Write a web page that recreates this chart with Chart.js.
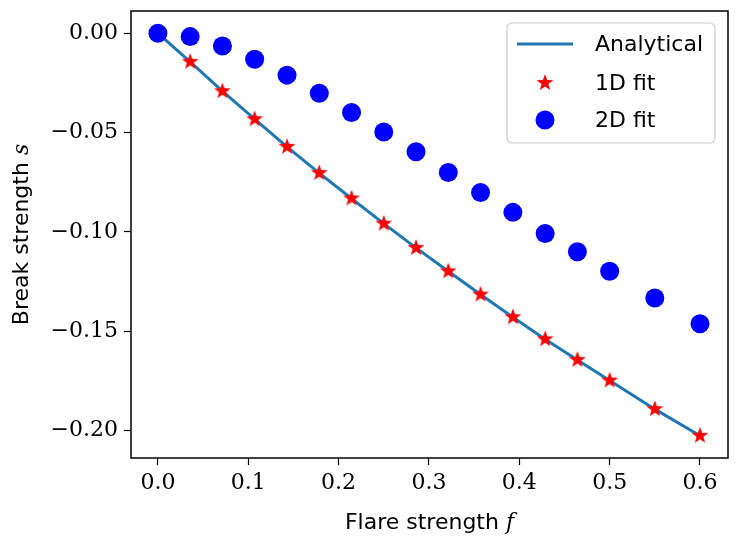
<!DOCTYPE html>
<html>
<head>
<meta charset="utf-8">
<script src="https://cdn.jsdelivr.net/npm/chart.js@4.4.1/dist/chart.umd.min.js"></script>
<style>
  html, body { margin: 0; padding: 0; background: #fff; }
  #wrap { width: 739px; height: 545px; }
</style>
</head>
<body>
<div id="wrap"><canvas id="chart"></canvas></div>
<script>
// Flare strength vs break strength

const flareStrength = [0, 0.0357, 0.0714, 0.1071, 0.1429, 0.1786, 0.2143, 0.25, 0.2857,
    0.3214, 0.3571, 0.3929, 0.4286, 0.4643, 0.5, 0.55, 0.6];
const analytical = [0, -0.0144, -0.0292, -0.0433, -0.0572, -0.0704, -0.0832, -0.0959, -0.1081,
    -0.1199, -0.1316, -0.1430, -0.1541, -0.1645, -0.1749, -0.1893, -0.2027];
const fit1D = [0, -0.0144, -0.0292, -0.0433, -0.0572, -0.0704, -0.0832, -0.0959, -0.1081,
    -0.1199, -0.1316, -0.1430, -0.1541, -0.1645, -0.1749, -0.1893, -0.2027];
const fit2D = [0, -0.0017, -0.0064, -0.0131, -0.0211, -0.0302, -0.0399, -0.0497, -0.0597,
    -0.0701, -0.0802, -0.0902, -0.1008, -0.1100, -0.1199, -0.1333, -0.1463];

const xTicks = [0, 0.1, 0.2, 0.3, 0.4, 0.5, 0.6];
const yTicks = [0, -0.05, -0.10, -0.15, -0.20];

const legendLabels = ['Analytical', '1D fit', '2D fit'];

const toPoints = (ys) => ys.map((y, i) => ({ x: flareStrength[i], y }));
const fmtMinus = (v, d) => (v < 0 ? '\u2212' : '') + Math.abs(v).toFixed(d);

// filled five-point star for the 1D markers
function makeStar(size, outer, inner, color) {
    const c = document.createElement('canvas');
    c.width = size; c.height = size;
    const g = c.getContext('2d');
    const cx = size / 2, cy = size / 2;
    g.beginPath();
    for (let i = 0; i < 10; i++) {
        const r = i % 2 === 0 ? outer : inner;
        const a = -Math.PI / 2 + i * Math.PI / 5;
        const px = cx + r * Math.cos(a), py = cy + r * Math.sin(a);
        if (i === 0) g.moveTo(px, py); else g.lineTo(px, py);
    }
    g.closePath();
    g.fillStyle = color;
    g.fill();
    return c;
}
const starImg = makeStar(20, 8.8, 3.6, '#ff0000');

const serif = '"DejaVu Serif", serif';
const sans = '"DejaVu Sans", sans-serif';

// frame, axis titles with math italics, legend box
const decorations = {
    id: 'decorations',
    afterDraw(chart) {
        const { ctx, chartArea: a } = chart;
        ctx.save();
        ctx.strokeStyle = '#000';
        ctx.lineWidth = 1.5;
        ctx.strokeRect(a.left, a.top, a.right - a.left, a.bottom - a.top);

        // x title
        ctx.fillStyle = '#000';
        ctx.textBaseline = 'alphabetic';
        const xMain = 'Flare strength ';
        ctx.font = '22px ' + sans;
        const w1 = ctx.measureText(xMain).width;
        ctx.font = 'italic 22px ' + serif;
        const w2 = ctx.measureText('f').width;
        let x0 = (a.left + a.right) / 2 - (w1 + w2) / 2;
        ctx.font = '22px ' + sans;
        ctx.fillText(xMain, x0, 529);
        ctx.font = 'italic 22px ' + serif;
        ctx.fillText('f', x0 + w1, 529);

        // y title (rotated)
        const yMain = 'Break strength ';
        ctx.translate(28, (a.top + a.bottom) / 2);
        ctx.rotate(-Math.PI / 2);
        ctx.font = '22px ' + sans;
        const v1 = ctx.measureText(yMain).width;
        ctx.font = 'italic 22px ' + serif;
        const v2 = ctx.measureText('s').width;
        const y0 = -(v1 + v2) / 2;
        ctx.font = '22px ' + sans;
        ctx.fillText(yMain, y0, 0);
        ctx.font = 'italic 22px ' + serif;
        ctx.fillText('s', y0 + v1, 0);
        ctx.restore();

        // legend
        ctx.save();
        const bx = 507, by = 23, bw = 208, bh = 120, r = 5;
        ctx.beginPath();
        ctx.roundRect(bx, by, bw, bh, r);
        ctx.fillStyle = 'rgba(255,255,255,0.8)';
        ctx.fill();
        ctx.strokeStyle = '#cccccc';
        ctx.lineWidth = 1.2;
        ctx.stroke();

        const rows = [44, 83, 120];
        const ds = chart.data.datasets;
        ctx.strokeStyle = ds[0].borderColor;
        ctx.lineWidth = ds[0].borderWidth;
        ctx.beginPath();
        ctx.moveTo(517, rows[0]);
        ctx.lineTo(573, rows[0]);
        ctx.stroke();
        ctx.drawImage(starImg, 545 - starImg.width / 2, rows[1] - starImg.height / 2);
        ctx.beginPath();
        ctx.arc(545, rows[2], ds[2].pointRadius, 0, Math.PI * 2);
        ctx.fillStyle = ds[2].backgroundColor;
        ctx.fill();

        ctx.fillStyle = '#000';
        ctx.font = '22px ' + sans;
        ctx.textBaseline = 'middle';
        legendLabels.forEach((t, i) => ctx.fillText(t, 595, rows[i] + 1));
        ctx.restore();
    }
};

new Chart(document.getElementById('chart'), {
    type: 'scatter',
    data: {
        datasets: [
            {
                label: legendLabels[0],
                data: toPoints(analytical),
                showLine: true,
                borderColor: '#1f77b4',
                borderWidth: 3,
                pointRadius: 0,
                order: 3
            },
            {
                label: legendLabels[1],
                data: toPoints(fit1D),
                pointStyle: starImg,
                pointRadius: 10,
                order: 2
            },
            {
                label: legendLabels[2],
                data: toPoints(fit2D),
                backgroundColor: '#0000ff',
                borderColor: '#0000ff',
                borderWidth: 0,
                pointRadius: 9.5,
                order: 1
            }
        ]
    },
    options: {
        responsive: true,
        maintainAspectRatio: false,
        animation: false,
        devicePixelRatio: 1,
        layout: { padding: { left: 0, top: 10, right: 9, bottom: 0 } },
        scales: {
            x: {
                type: 'linear',
                min: -0.0298,
                max: 0.631,
                afterBuildTicks: (s) => { s.ticks = xTicks.map(v => ({ value: v })); },
                afterFit: (s) => { s.height = 87; s.paddingLeft = 0; s.paddingRight = 0; },
                ticks: {
                    color: '#000',
                    font: { family: serif, size: 22 },
                    padding: 5,
                    maxRotation: 0,
                    callback: (v) => fmtMinus(v, 1)
                },
                grid: {
                    drawOnChartArea: false,
                    drawTicks: true,
                    tickLength: 7,
                    tickColor: '#000',
                    tickWidth: 1.2
                },
                border: { display: false }
            },
            y: {
                type: 'linear',
                min: -0.2139,
                max: 0.0112,
                afterBuildTicks: (s) => { s.ticks = yTicks.map(v => ({ value: v })); },
                afterFit: (s) => { s.width = 131; s.paddingTop = 0; s.paddingBottom = 0; },
                ticks: {
                    color: '#000',
                    font: { family: serif, size: 22 },
                    padding: 6,
                    callback: (v) => fmtMinus(v, 2)
                },
                grid: {
                    drawOnChartArea: false,
                    drawTicks: true,
                    tickLength: 7,
                    tickColor: '#000',
                    tickWidth: 1.2
                },
                border: { display: false }
            }
        },
        plugins: {
            legend: { display: false },
            tooltip: { enabled: false }
        }
    },
    plugins: [decorations]
});
</script>
</body>
</html>
